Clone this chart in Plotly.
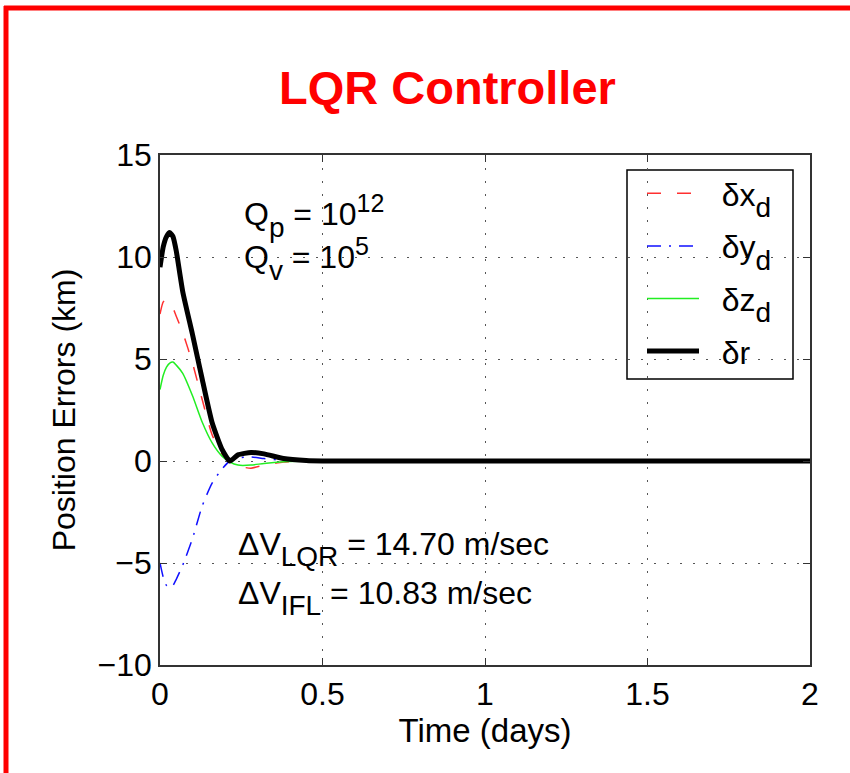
import plotly.graph_objects as go

# Time samples (days) and position error components (km)
t = [0, 0.01, 0.02, 0.03, 0.04, 0.05, 0.07, 0.10, 0.13, 0.16, 0.19, 0.215,
     0.24, 0.28, 0.32, 0.38, 0.45, 0.5, 1.0, 1.5, 2.0]
dx_d = [7.2, 7.8, 7.9, 7.8, 7.5, 7.1, 6.3, 4.8, 3.0, 1.3, 0.35, -0.05,
        -0.25, -0.35, -0.2, -0.05, 0.0, 0.0, 0.0, 0.0, 0.0]
dy_d = [-5.0, -5.7, -6.1, -6.2, -6.1, -5.8, -5.1, -3.8, -2.2, -1.1, -0.4, 0.0,
        0.15, 0.2, 0.12, 0.03, 0.0, 0.0, 0.0, 0.0, 0.0]
dz_d = [3.5, 4.2, 4.6, 4.8, 4.85, 4.7, 4.3, 3.2, 1.9, 0.9, 0.25, -0.05,
        -0.2, -0.2, -0.12, -0.04, 0.0, 0.0, 0.0, 0.0, 0.0]
dr = [9.5, 10.5, 11.0, 11.2, 11.0, 10.3, 8.3, 6.2, 4.0, 1.9, 0.6, 0.0,
      0.3, 0.42, 0.35, 0.12, 0.02, 0.0, 0.0, 0.0, 0.0]

x_ticks = [0, 0.5, 1, 1.5, 2]
x_tick_text = ["0", "0.5", "1", "1.5", "2"]
y_ticks = [-10, -5, 0, 5, 10, 15]

FONT = "Liberation Sans, Arial, sans-serif"
# MATLAB-style subscripts: nearly full size and dropped well below the baseline
SUB = '<sub><sub><span style="font-size:28px">{}</span></sub></sub>'
SUP = '<sup><span style="font-size:25px">{}</span></sup>'
PAD = "\u00a0\u00a0"

fig = go.Figure()
fig.add_trace(go.Scatter(x=t, y=dx_d, mode="lines", name=PAD + "δx" + SUB.format("d"), legendgroup="a",
                         line=dict(color="#ff3030", width=1.5, dash="14px,16px", shape="spline", smoothing=0.6)))
fig.add_trace(go.Scatter(x=t, y=dy_d, mode="lines", name=PAD + "δy" + SUB.format("d"), legendgroup="b",
                         line=dict(color="#1010ff", width=1.5, dash="14px,8px,2px,8px", shape="spline", smoothing=0.6)))
fig.add_trace(go.Scatter(x=t, y=dz_d, mode="lines", name=PAD + "δz" + SUB.format("d"), legendgroup="c",
                         line=dict(color="#22ee22", width=1.5, shape="spline", smoothing=0.6)))
fig.add_trace(go.Scatter(x=t, y=dr, mode="lines", name=PAD + "δr", legendgroup="d",
                         line=dict(color="black", width=5, shape="spline", smoothing=0.5)))

axis_common = dict(
    showline=True, linecolor="#333", linewidth=1.5, mirror="allticks",
    ticks="inside", ticklen=7, tickcolor="#333", tickwidth=1.2,
    showgrid=True, gridcolor="#555", gridwidth=1.3, griddash="2px,11px",
    zeroline=False, tickfont=dict(family=FONT, size=32, color="black"),
)

fig.update_xaxes(range=[0, 2], tickvals=x_ticks, ticktext=x_tick_text,
                 title=dict(text="Time (days)", font=dict(family=FONT, size=33, color="black"), standoff=6),
                 **axis_common)
fig.update_yaxes(range=[-10, 15], tickvals=y_ticks,
                 title=dict(text="Position Errors (km)", font=dict(family=FONT, size=32, color="black"), standoff=12),
                 **axis_common)

text_font = dict(family=FONT, size=32, color="black")
fig.add_annotation(x=0.252, y=12.0, xref="x", yref="y", xanchor="left", yanchor="middle",
                   text="Q" + SUB.format("p") + " = 10" + SUP.format("12"), showarrow=False, font=text_font)
fig.add_annotation(x=0.252, y=9.9, xref="x", yref="y", xanchor="left", yanchor="middle",
                   text="Q" + SUB.format("v") + " = 10" + SUP.format("5"), showarrow=False, font=text_font)
fig.add_annotation(x=0.235, y=-4.3, xref="x", yref="y", xanchor="left", yanchor="middle",
                   text="ΔV" + SUB.format("LQR") + " = 14.70 m/sec", showarrow=False, font=text_font)
fig.add_annotation(x=0.235, y=-6.7, xref="x", yref="y", xanchor="left", yanchor="middle",
                   text="ΔV" + SUB.format("IFL") + " = 10.83 m/sec", showarrow=False, font=text_font)

# Title
fig.add_annotation(x=0.443, y=1.133, xref="paper", yref="paper", xanchor="center", yanchor="middle",
                   text="<b>LQR Controller</b>", showarrow=False,
                   font=dict(family=FONT, size=47, color="#ff0000"))


def px_x(p):
    return (p - 160) / 650


def px_y(p):
    return (665 - p) / 510


# Opaque legend frame
fig.add_shape(type="rect", xref="paper", yref="paper", layer="between",
              x0=px_x(627), x1=px_x(793), y0=px_y(170), y1=px_y(379),
              fillcolor="white", line=dict(color="black", width=1.5))

# Red frame along the top and left edges of the page
fig.add_shape(type="line", xref="paper", yref="paper",
              x0=px_x(4), x1=px_x(852), y0=px_y(8), y1=px_y(8),
              line=dict(color="#ff0000", width=5))
fig.add_shape(type="line", xref="paper", yref="paper",
              x0=px_x(6), x1=px_x(6), y0=px_y(6), y1=px_y(776),
              line=dict(color="#ff0000", width=5))

fig.update_layout(
    width=850, height=773,
    margin=dict(l=160, r=40, t=155, b=108),
    paper_bgcolor="white", plot_bgcolor="white",
    showlegend=True,
    legend=dict(x=px_x(642), y=px_y(166), xanchor="left", yanchor="top",
                bgcolor="rgba(0,0,0,0)", borderwidth=0,
                font=dict(family=FONT, size=32, color="black"),
                itemwidth=52, tracegroupgap=8),
)

fig.write_html("out.html")
